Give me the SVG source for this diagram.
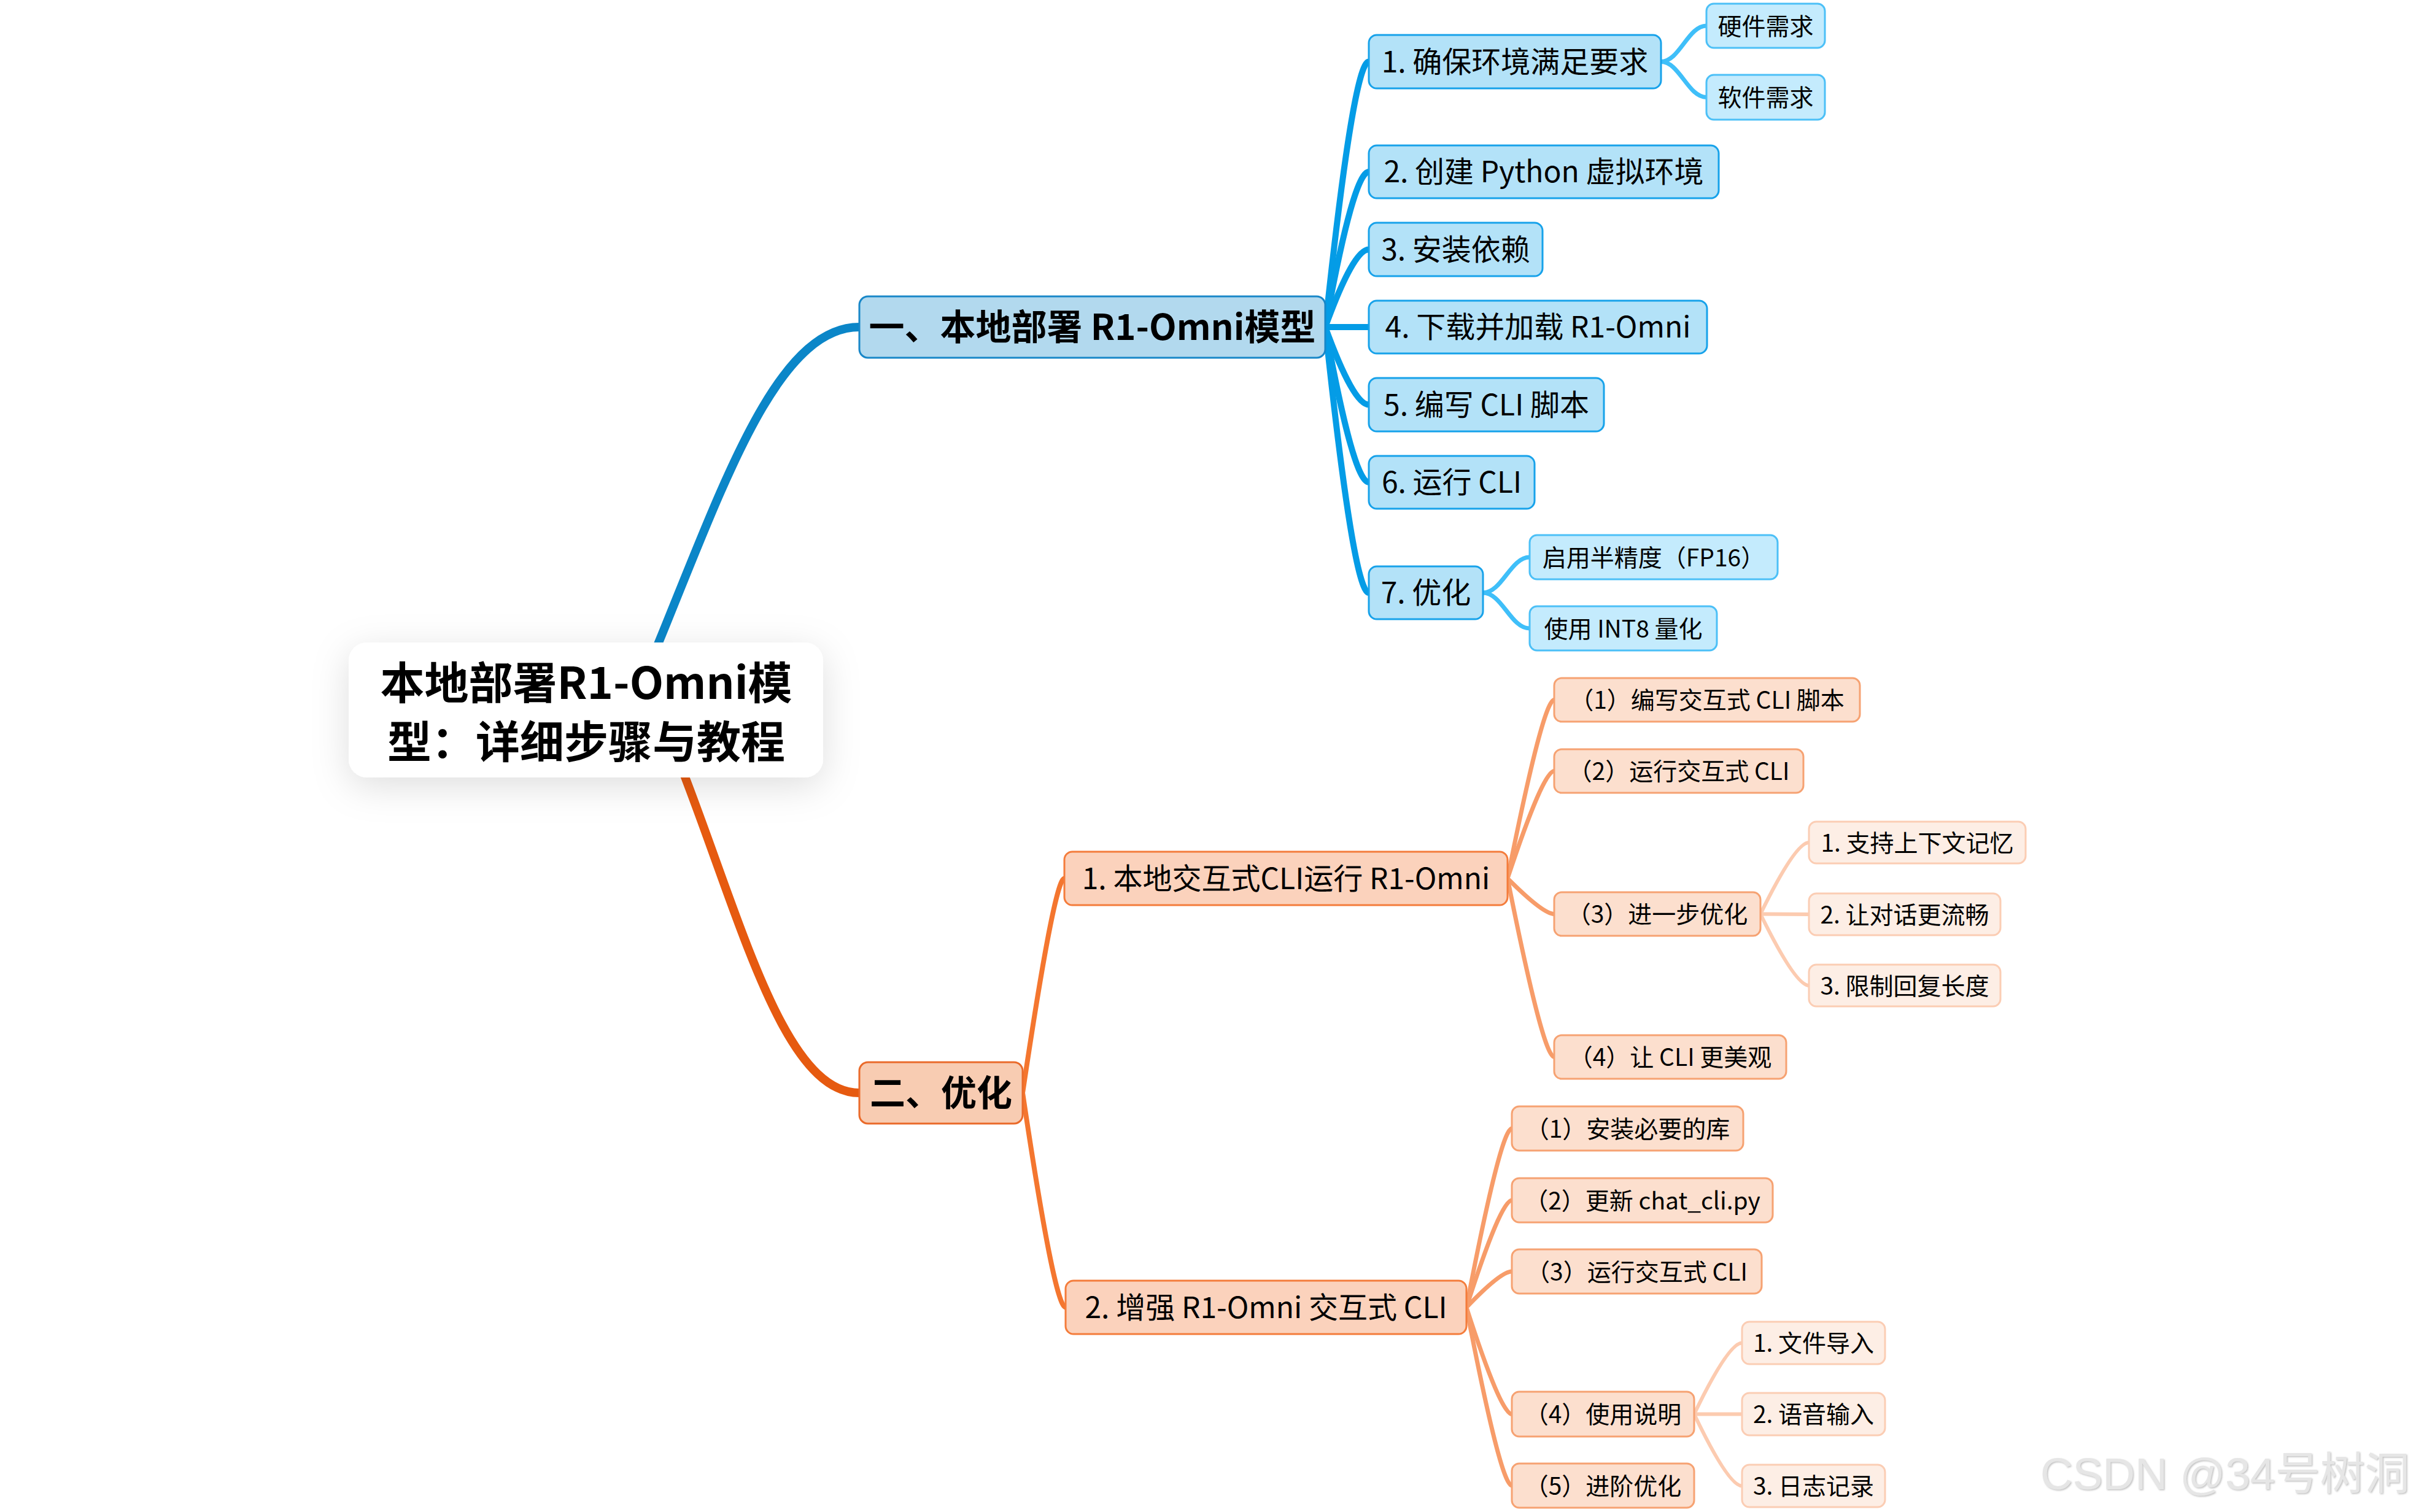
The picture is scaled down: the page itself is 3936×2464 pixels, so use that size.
<svg xmlns="http://www.w3.org/2000/svg" width="3936" height="2464" viewBox="0 0 3936 2464">
<defs>
<filter id="rootShadow" x="-30%" y="-60%" width="160%" height="220%">
<feDropShadow dx="0" dy="14" stdDeviation="30" flood-color="#000" flood-opacity="0.13"/>
</filter>
<filter id="wmShadow" x="-5%" y="-20%" width="110%" height="140%">
<feDropShadow dx="1.5" dy="1.5" stdDeviation="0.8" flood-color="#a8a8a8" flood-opacity="0.7"/>
</filter>
<style>
text{font-family:"Noto Sans CJK SC","Noto Sans",sans-serif;fill:#000;text-anchor:middle}
.root{font-size:72px;font-weight:bold}
.main{font-size:58px;font-weight:bold}
.l1{font-size:48px}
.l2{font-size:39px}
.c{fill:none;stroke-linecap:round}
.cb0{stroke:#0b86c8;stroke-width:14}
.cb1{stroke:#049ce6;stroke-width:10}
.cb2{stroke:#3fbff9;stroke-width:7}
.co0{stroke:#e65a10;stroke-width:14}
.co1{stroke:#f4762f;stroke-width:8}
.co2{stroke:#f79c69;stroke-width:7}
.co3{stroke:#fccbb0;stroke-width:6}
.nb0{fill:#b2d9ee;stroke:#1887c8;stroke-width:3}
.nb1{fill:#b3e2f8;stroke:#17a2ea;stroke-width:3}
.nb2{fill:#c4ebfd;stroke:#4cc0f7;stroke-width:3}
.no0{fill:#f8ccb2;stroke:#ea6a2a;stroke-width:3}
.no1{fill:#fbd2bc;stroke:#f47c3b;stroke-width:3}
.no2{fill:#fcdfce;stroke:#f6a272;stroke-width:3}
.no3{fill:#fdeee5;stroke:#fbcdb4;stroke-width:3}
.wm{font-family:"Liberation Sans","Noto Sans CJK SC",sans-serif;font-size:73px;fill:#e6e6e6;text-anchor:start}
</style>
</defs>
<rect x="0" y="0" width="3936" height="2464" fill="#ffffff"/>

<g id="connectors">
<path class="c cb0" d="M1030,1150 C1160,850 1250,533 1400,533"/>
<path class="c co0" d="M1068,1150 C1190,1420 1260,1781 1400,1781"/>
<path class="c cb1" d="M2159,533 Q2205,100.5 2230,100.5"/>
<path class="c cb1" d="M2159,533 Q2205,280 2230,280"/>
<path class="c cb1" d="M2159,533 Q2205,406.5 2230,406.5"/>
<path class="c cb1" d="M2159,533 L2230,533"/>
<path class="c cb1" d="M2159,533 Q2205,659.5 2230,659.5"/>
<path class="c cb1" d="M2159,533 Q2205,786 2230,786"/>
<path class="c cb1" d="M2159,533 Q2205,966 2230,966"/>
<path class="c cb2" d="M2706,100.5 C2736,100.5 2750,42 2780,42"/>
<path class="c cb2" d="M2706,100.5 C2736,100.5 2750,158.5 2780,158.5"/>
<path class="c cb2" d="M2416,966 C2447,966 2461,908 2492,908"/>
<path class="c cb2" d="M2416,966 C2447,966 2461,1024 2492,1024"/>
<path class="c co1" d="M1666,1781 Q1718,1431.5 1734,1431.5"/>
<path class="c co1" d="M1666,1781 Q1718,2130.5 1736,2130.5"/>
<path class="c co2" d="M2456,1431.5 Q2514,1140.5 2532,1140.5"/>
<path class="c co2" d="M2456,1431.5 Q2514,1256.5 2532,1256.5"/>
<path class="c co2" d="M2456,1431.5 Q2514,1489.5 2532,1489.5"/>
<path class="c co2" d="M2456,1431.5 Q2514,1722.5 2532,1722.5"/>
<path class="c co3" d="M2868,1489.5 Q2925,1373 2947,1373"/>
<path class="c co3" d="M2868,1489.5 L2947,1490"/>
<path class="c co3" d="M2868,1489.5 Q2925,1606 2947,1606"/>
<path class="c co2" d="M2389,2130.5 Q2445,1839 2463,1839"/>
<path class="c co2" d="M2389,2130.5 Q2445,1956 2463,1956"/>
<path class="c co2" d="M2389,2130.5 Q2445,2072 2463,2072"/>
<path class="c co2" d="M2389,2130.5 Q2445,2304.5 2463,2304.5"/>
<path class="c co2" d="M2389,2130.5 Q2445,2421 2463,2421"/>
<path class="c co3" d="M2760,2304.5 Q2816,2188.5 2838,2188.5"/>
<path class="c co3" d="M2760,2304.5 L2838,2304.5"/>
<path class="c co3" d="M2760,2304.5 Q2816,2421.5 2838,2421.5"/>
</g>

<g id="root">
<rect x="568" y="1047" width="773" height="220" rx="30" fill="#ffffff" filter="url(#rootShadow)"/>
<text class="root" x="955" y="1139">本地部署R1-Omni模</text>
<text class="root" x="955" y="1235">型：详细步骤与教程</text>
</g>

<g id="b-main">
<rect class="nb0" x="1400" y="483" width="759" height="100" rx="14"/>
<text class="main" x="1779.5" y="554">一、本地部署 R1-Omni模型</text>
</g>
<g id="b1">
<rect class="nb1" x="2230" y="57" width="476" height="87" rx="13"/>
<text class="l1" x="2468" y="118">1. 确保环境满足要求</text>
</g>
<g id="b1-1">
<rect class="nb2" x="2780" y="6" width="193" height="72" rx="12"/>
<text class="l2" x="2876.5" y="56.5">硬件需求</text>
</g>
<g id="b1-2">
<rect class="nb2" x="2780" y="122" width="193" height="73" rx="12"/>
<text class="l2" x="2876.5" y="173">软件需求</text>
</g>
<g id="b2">
<rect class="nb1" x="2230" y="237" width="570" height="86" rx="13"/>
<text class="l1" x="2515" y="297">2. 创建 Python 虚拟环境</text>
</g>
<g id="b3">
<rect class="nb1" x="2230" y="363" width="283" height="87" rx="13"/>
<text class="l1" x="2371.5" y="424">3. 安装依赖</text>
</g>
<g id="b4">
<rect class="nb1" x="2230" y="490" width="551" height="86" rx="13"/>
<text class="l1" x="2505.5" y="550">4. 下载并加载 R1-Omni</text>
</g>
<g id="b5">
<rect class="nb1" x="2230" y="616" width="383" height="87" rx="13"/>
<text class="l1" x="2421.5" y="677">5. 编写 CLI 脚本</text>
</g>
<g id="b6">
<rect class="nb1" x="2230" y="743" width="270" height="86" rx="13"/>
<text class="l1" x="2365" y="803">6. 运行 CLI</text>
</g>
<g id="b7">
<rect class="nb1" x="2230" y="923" width="186" height="86" rx="13"/>
<text class="l1" x="2323" y="983">7. 优化</text>
</g>
<g id="b7-1">
<rect class="nb2" x="2492" y="872" width="404" height="72" rx="12"/>
<text class="l2" x="2694" y="922.5">启用半精度（FP16）</text>
</g>
<g id="b7-2">
<rect class="nb2" x="2492" y="988" width="305" height="72" rx="12"/>
<text class="l2" x="2644.5" y="1038.5">使用 INT8 量化</text>
</g>

<g id="o-main">
<rect class="no0" x="1400" y="1731" width="266" height="100" rx="14"/>
<text class="main" x="1533" y="1802">二、优化</text>
</g>
<g id="o1">
<rect class="no1" x="1734" y="1388" width="722" height="87" rx="13"/>
<text class="l1" x="2095" y="1449">1. 本地交互式CLI运行 R1-Omni</text>
</g>
<g id="o1-1">
<rect class="no2" x="2532" y="1105" width="498" height="71" rx="12"/>
<text class="l2" x="2781" y="1155">（1）编写交互式 CLI 脚本</text>
</g>
<g id="o1-2">
<rect class="no2" x="2532" y="1221" width="406" height="71" rx="12"/>
<text class="l2" x="2735" y="1271">（2）运行交互式 CLI</text>
</g>
<g id="o1-3">
<rect class="no2" x="2532" y="1454" width="336" height="71" rx="12"/>
<text class="l2" x="2700" y="1504">（3）进一步优化</text>
</g>
<g id="o1-3-1">
<rect class="no3" x="2947" y="1339" width="353" height="68" rx="12"/>
<text class="l2" x="3123.5" y="1387.5">1. 支持上下文记忆</text>
</g>
<g id="o1-3-2">
<rect class="no3" x="2947" y="1456" width="312" height="68" rx="12"/>
<text class="l2" x="3103" y="1504.5">2. 让对话更流畅</text>
</g>
<g id="o1-3-3">
<rect class="no3" x="2947" y="1572" width="312" height="68" rx="12"/>
<text class="l2" x="3103" y="1620.5">3. 限制回复长度</text>
</g>
<g id="o1-4">
<rect class="no2" x="2532" y="1687" width="378" height="71" rx="12"/>
<text class="l2" x="2721" y="1737">（4）让 CLI 更美观</text>
</g>
<g id="o2">
<rect class="no1" x="1736" y="2087" width="653" height="87" rx="13"/>
<text class="l1" x="2062.5" y="2148">2. 增强 R1-Omni 交互式 CLI</text>
</g>
<g id="o2-1">
<rect class="no2" x="2463" y="1803" width="377" height="72" rx="12"/>
<text class="l2" x="2651.5" y="1853.5">（1）安装必要的库</text>
</g>
<g id="o2-2">
<rect class="no2" x="2463" y="1920" width="425" height="72" rx="12"/>
<text class="l2" x="2675.5" y="1970.5">（2）更新 chat_cli.py</text>
</g>
<g id="o2-3">
<rect class="no2" x="2463" y="2036" width="407" height="72" rx="12"/>
<text class="l2" x="2666.5" y="2086.5">（3）运行交互式 CLI</text>
</g>
<g id="o2-4">
<rect class="no2" x="2463" y="2268" width="297" height="73" rx="12"/>
<text class="l2" x="2611.5" y="2319">（4）使用说明</text>
</g>
<g id="o2-4-1">
<rect class="no3" x="2838" y="2154" width="233" height="69" rx="12"/>
<text class="l2" x="2954.5" y="2203">1. 文件导入</text>
</g>
<g id="o2-4-2">
<rect class="no3" x="2838" y="2270" width="233" height="69" rx="12"/>
<text class="l2" x="2954.5" y="2319">2. 语音输入</text>
</g>
<g id="o2-4-3">
<rect class="no3" x="2838" y="2387" width="233" height="69" rx="12"/>
<text class="l2" x="2954.5" y="2436">3. 日志记录</text>
</g>
<g id="o2-5">
<rect class="no2" x="2463" y="2385" width="297" height="72" rx="12"/>
<text class="l2" x="2611.5" y="2435.5">（5）进阶优化</text>
</g>

<g id="watermark">
<text class="wm" x="3324" y="2427" filter="url(#wmShadow)">CSDN @34号树洞</text>
</g>
</svg>
